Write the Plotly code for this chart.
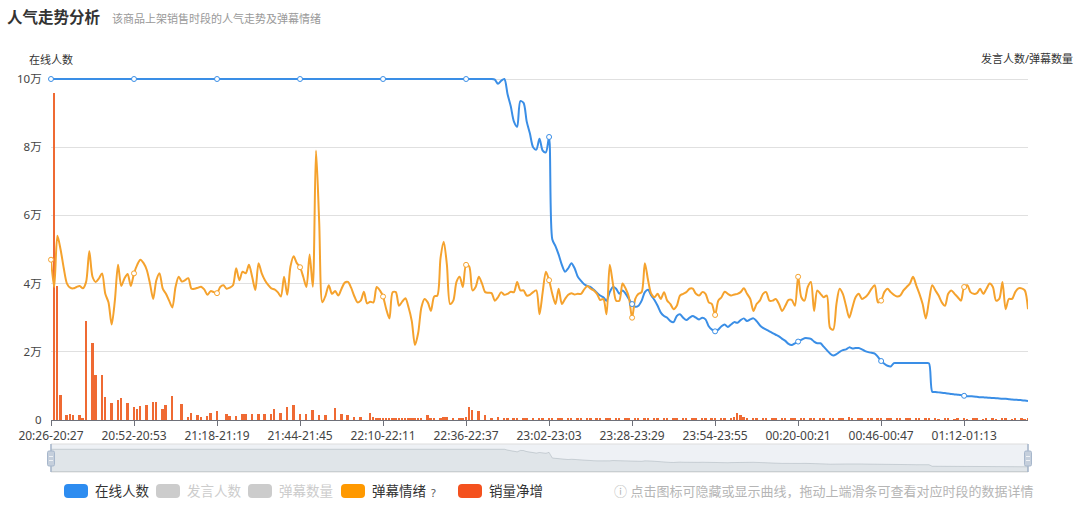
import plotly.graph_objects as go

# ---------------- data ----------------
START_MIN = 20 * 60 + 26
N_MIN = 307


def _fmt(m):
    m %= 24 * 60
    return f"{m // 60:02d}:{m % 60:02d}"


categories = [f"{_fmt(START_MIN + k)}-{_fmt(START_MIN + k + 1)}" for k in range(N_MIN)]
tick_labels = categories[::26]

y_tick_values = [0, 20000, 40000, 60000, 80000, 100000]
y_tick_labels = ["0", "2万", "4万", "6万", "8万", "10万"]

online = [
    100000, 100000, 100000, 100000, 100000, 100000, 100000, 100000, 100000, 100000,
    100000, 100000, 100000, 100000, 100000, 100000, 100000, 100000, 100000, 100000,
    100000, 100000, 100000, 100000, 100000, 100000, 100000, 100000, 100000, 100000,
    100000, 100000, 100000, 100000, 100000, 100000, 100000, 100000, 100000, 100000,
    100000, 100000, 100000, 100000, 100000, 100000, 100000, 100000, 100000, 100000,
    100000, 100000, 100000, 100000, 100000, 100000, 100000, 100000, 100000, 100000,
    100000, 100000, 100000, 100000, 100000, 100000, 100000, 100000, 100000, 100000,
    100000, 100000, 100000, 100000, 100000, 100000, 100000, 100000, 100000, 100000,
    100000, 100000, 100000, 100000, 100000, 100000, 100000, 100000, 100000, 100000,
    100000, 100000, 100000, 100000, 100000, 100000, 100000, 100000, 100000, 100000,
    100000, 100000, 100000, 100000, 100000, 100000, 100000, 100000, 100000, 100000,
    100000, 100000, 100000, 100000, 100000, 100000, 100000, 100000, 100000, 100000,
    100000, 100000, 100000, 100000, 100000, 100000, 100000, 100000, 100000, 100000,
    100000, 100000, 100000, 100000, 100000, 100000, 100000, 100000,
    100000, 99800, 98600, 99500, 100000, 95500, 92000, 87500, 86000, 93500,
    93000, 87500, 84000, 80000, 79300, 82500, 79000, 78500, 83000, 53000,
    51000, 48500, 45500, 43500, 44500, 46000, 44500, 42000, 40800, 39800,
    39300, 39000, 38200, 37300, 36500, 36000, 35000, 37500, 39000, 38500,
    37000, 38000, 37000, 35500, 34000, 33200, 33500, 35000, 37500, 38200,
    36500, 35200, 33500, 31500, 30500, 30000, 29000, 28700, 30500, 31000,
    30000, 29300, 30000, 30500, 30000, 29500, 30000, 29500, 27500, 26500,
    26000, 26500, 27500, 28000, 27300, 28000, 28700, 28500, 29300, 29800,
    29000, 29500, 29800, 29000, 27800, 27000, 26500, 26000, 25500, 25000,
    24500, 23800, 23200, 22300, 22000, 22500, 23000, 23500, 24000, 24000,
    23800, 23000, 22500, 22500, 21500, 20500, 19500, 18900, 19300, 20000,
    20500, 20700, 21300, 21000, 21100, 21100, 20700, 20200, 19900, 19700,
    19500, 18500, 17300, 16500, 15900, 15700, 16700, 16700, 16700, 16700,
    16700, 16700, 16700, 16700, 16700, 16700, 16700, 16600, 8300, 8200,
    8100, 8000, 7900, 7800, 7600, 7500, 7400, 7300, 7100, 7000,
    6950, 6900, 6800, 6700, 6650, 6600, 6500, 6450, 6400, 6300,
    6250, 6200, 6100, 6000, 5950, 5900, 5800, 5700, 5600,
]

sentiment = [
    47000, 39000, 54000, 50000, 44500, 40000, 38800, 38600, 39000, 39300,
    38600, 40500, 49500, 42000, 40500, 41500, 43000, 37000, 34500, 28000,
    35000, 45500, 39300, 41500, 42800, 39300, 43000, 45500, 47000, 46000,
    44000, 40000, 35500, 41000, 43000, 38500, 37000, 35000, 33000, 39000,
    42000, 40600, 41000, 41600, 38500, 38500, 38800, 39100, 38300, 36700,
    37800, 37500, 37200, 39000, 39500, 38500, 38800, 39500, 44500, 41000,
    43500, 43000, 45500, 42000, 38100, 46000, 43000, 41000, 39600, 38600,
    38300, 37500, 36200, 42000, 36700, 45000, 48000, 46000, 44800, 42000,
    39000, 48500, 39100, 79000, 58000, 34500, 36500, 39500, 37000, 37800,
    36500, 38500, 40300, 40500, 38800, 36300, 34500, 35000, 37600, 34200,
    34700, 34500, 39000, 38000, 36200, 32500, 29800, 37500, 37500, 33500,
    34700, 35700, 33000, 29000, 22000, 25500, 33000, 35500, 34500, 32000,
    36200, 36500, 47500, 52300, 45500, 34000, 35000, 40500, 42000, 39000,
    45500, 45000, 38000, 39000, 42000, 40000, 37500, 37300, 37200, 35000,
    36000, 37500, 36700, 37000, 37600, 37500, 40500, 38000, 38000, 36500,
    36700, 37500, 38000, 31000, 37500, 43500, 41000, 37000, 34000, 38500,
    34000, 35500, 36700, 37200, 36800, 37000, 37000, 38300, 39300, 38500,
    38000, 37000, 35200, 35500, 31000, 45500, 40000, 35000, 35000, 40000,
    38500, 36000, 30000, 35500, 37000, 37500, 46000, 41000, 37000, 36000,
    37000, 35500, 37500, 35000, 34000, 32500, 33500, 36500, 37000, 37500,
    38500, 38500, 37000, 36500, 37500, 37000, 34500, 34000, 30800, 35000,
    36000, 37600, 37000, 36500, 36800, 37000, 37500, 38600, 37000, 35500,
    32000, 34000, 35000, 37000, 37500, 35000, 35000, 35500, 34000, 32000,
    33500, 35200, 35200, 33500, 42000, 36000, 35000, 39000, 40500, 32000,
    38000, 37000, 36000, 36500, 27000, 26500, 34000, 38500, 37000, 33500,
    30000, 33000, 36000, 37000, 35500, 36000, 37000, 38500, 39500, 34500,
    35000, 37500, 38500, 37500, 36700, 36200, 36500, 38000, 39000, 40000,
    42000, 39500, 37000, 34000, 29800, 35000, 39500, 38000, 36500, 34500,
    33500, 37000, 38000, 37000, 36000, 35000, 39000, 39500, 37500, 37000,
    37200, 38500, 37000, 38500, 40000, 39000, 35000, 35500, 40500, 32500,
    35500, 35500, 37500, 38600, 38600, 38000, 32500,
]

sales_net = [
    0, 96000, 39300, 7300, 0, 1500, 1900, 1500, 0, 1400,
    600, 29100, 0, 22500, 13200, 0, 13200, 6800, 0, 4900,
    0, 5900, 6400, 0, 4900, 0, 3900, 3200, 4000, 0,
    4300, 0, 5200, 5200, 0, 3200, 4300, 0, 7100, 0,
    0, 4700, 0, 1000, 2100, 0, 1500, 1000, 0, 1200,
    2100, 0, 2700, 0, 0, 1800, 1200, 0, 1200, 0,
    1900, 1900, 0, 1800, 0, 1800, 0, 1900, 0, 1800,
    3100, 0, 2100, 0, 3900, 0, 4400, 0, 1800, 0,
    1700, 0, 2900, 0, 1500, 0, 1500, 0, 0, 3400,
    0, 1800, 0, 1500, 0, 1000, 0, 1000, 0, 0,
    2000, 800, 500, 500, 500, 500, 400, 400, 500, 400,
    400, 500, 400, 400, 500, 400, 300, 0, 1500, 700,
    500, 0, 700, 800, 800, 0, 500, 0, 700, 500,
    800, 3800, 2800, 0, 2500, 0, 1500, 0, 700, 0,
    800, 0, 700, 600, 0, 700, 600, 0, 700, 600,
    0, 600, 0, 600,
    400, 0, 300, 500, 0, 400, 300, 0, 500, 300,
    0, 400, 300, 0, 300, 500, 0, 300, 400, 0,
    300, 400, 0, 300, 300, 0, 400, 300, 0, 300,
    400, 0, 300, 300, 0, 400, 300, 0, 300, 300,
    0, 300, 400, 0, 300, 300, 0, 300, 400, 0,
    300, 300, 0, 400, 300, 0, 300, 500, 0, 600,
    1000, 2100, 1600, 900, 500, 0, 400, 600, 0, 400,
    300, 0, 400, 300, 0, 300, 300, 0, 300, 400,
    0, 300, 300, 0, 400, 300, 0, 300, 300, 0,
    300, 400, 0, 300, 500, 0, 900, 400, 0, 300,
    300, 0, 300, 300, 0, 400, 300, 0, 300, 300,
    0, 300, 300, 0, 300, 300, 0, 300, 300, 0,
    300, 300, 0, 300, 200, 0, 300, 300, 0, 200,
    300, 0, 300, 200, 0, 300, 300, 0, 200, 300,
    0, 300, 200, 0, 300, 300, 0, 200, 300, 0,
    300, 200, 300,
]

assert len(online) == N_MIN, len(online)
assert len(sentiment) == N_MIN, len(sentiment)
assert len(sales_net) == N_MIN, len(sales_net)

legend_names = ["在线人数", "发言人数", "弹幕数量", "弹幕情绪", "销量净增"]
legend_colors = ["#2d8cf0", "#cccccc", "#cccccc", "#ff9900", "#f4511e"]
legend_text_colors = ["#333333", "#cccccc", "#cccccc", "#333333", "#333333"]

# ---------------- geometry helpers (pixel -> paper) ----------------
W, H = 1080, 509
PL, PR, PT, PB = 51, 1028, 76, 472
Y_ZERO_PX, Y_MAX_PX = 420, 79          # pixel rows of 0 and 10万
Y_TOP = 100000 * (Y_ZERO_PX - PT) / (Y_ZERO_PX - Y_MAX_PX)


def px(x):
    return (x - PL) / (PR - PL)


def py(y):
    return (PB - y) / (PB - PT)


def rrect_path(x0, y0, x1, y1, r):
    return (
        f"M {px(x0 + r)},{py(y0)} L {px(x1 - r)},{py(y0)} "
        f"Q {px(x1)},{py(y0)} {px(x1)},{py(y0 + r)} L {px(x1)},{py(y1 - r)} "
        f"Q {px(x1)},{py(y1)} {px(x1 - r)},{py(y1)} L {px(x0 + r)},{py(y1)} "
        f"Q {px(x0)},{py(y1)} {px(x0)},{py(y1 - r)} L {px(x0)},{py(y0 + r)} "
        f"Q {px(x0)},{py(y0)} {px(x0 + r)},{py(y0)} Z"
    )


FONT = "Microsoft YaHei, Noto Sans, Noto Sans CJK SC, sans-serif"
BLUE = "#3a8ee6"
ORANGE = "#f5a22d"
BAR = "#ef6a33"

fig = go.Figure()

# main series
fig.add_trace(go.Scatter(
    x=categories, y=online, mode="lines",
    line=dict(color=BLUE, width=2, shape="spline", smoothing=0.8),
    cliponaxis=False, hoverinfo="skip", xaxis="x", yaxis="y",
))
fig.add_trace(go.Scatter(
    x=categories, y=sentiment, mode="lines",
    line=dict(color=ORANGE, width=2, shape="spline", smoothing=0.8),
    cliponaxis=False, hoverinfo="skip", xaxis="x", yaxis="y",
))
fig.add_trace(go.Bar(
    x=categories, y=sales_net, marker=dict(color=BAR, line=dict(width=0)),
    width=0.62, hoverinfo="skip", xaxis="x", yaxis="y",
))
# sparse hollow symbols (every 26th point)
fig.add_trace(go.Scatter(
    x=categories[::26], y=online[::26], mode="markers",
    marker=dict(size=5, color="white", line=dict(color=BLUE, width=1)),
    cliponaxis=False, hoverinfo="skip", xaxis="x", yaxis="y",
))
fig.add_trace(go.Scatter(
    x=categories[::26], y=sentiment[::26], mode="markers",
    marker=dict(size=5, color="white", line=dict(color=ORANGE, width=1)),
    cliponaxis=False, hoverinfo="skip", xaxis="x", yaxis="y",
))

# data-zoom shadow (ECharts-like extent)
lo, hi = min(online), max(online)
pad = (hi - lo) * 0.3
shadow_range = [lo - pad, hi + pad]
fig.add_trace(go.Scatter(
    x=categories + [categories[-1], categories[0]],
    y=online + [shadow_range[0], shadow_range[0]],
    mode="lines", fill="toself",
    fillcolor="rgba(47,69,84,0.07)",
    line=dict(color="rgba(47,69,84,0.22)", width=0.8),
    hoverinfo="skip", xaxis="x2", yaxis="y2",
))

shapes = []
# slider background
shapes.append(dict(type="rect", xref="paper", yref="paper",
                   x0=px(51), x1=px(1028), y0=py(444), y1=py(472),
                   fillcolor="#eef1f5", line=dict(color="#dddddd", width=1), layer="below"))
# slider handles
for hx in (51, 1028):
    shapes.append(dict(type="line", xref="paper", yref="paper",
                       x0=px(hx), x1=px(hx), y0=py(444), y1=py(472),
                       line=dict(color="#a7b7cc", width=1.5)))
    shapes.append(dict(type="path", xref="paper", yref="paper",
                       path=rrect_path(hx - 3.5, 451, hx + 3.5, 466, 1.5),
                       fillcolor="#c5cfdc", line=dict(color="#a7b7cc", width=1)))
    for ly in (456.5, 460.5):
        shapes.append(dict(type="line", xref="paper", yref="paper",
                           x0=px(hx - 2), x1=px(hx + 2), y0=py(ly), y1=py(ly),
                           line=dict(color="#eef1f5", width=1)))

# legend icons
legend_icon_x = [64, 156, 248, 341, 458]
legend_text_x = [93, 185, 277, 370, 487]
LEG_Y = 491
for ix, col in zip(legend_icon_x, legend_colors):
    shapes.append(dict(type="path", xref="paper", yref="paper",
                       path=rrect_path(ix, LEG_Y - 7, ix + 24, LEG_Y + 7, 4),
                       fillcolor=col, line=dict(width=0)))

annotations = [
    dict(x=px(5), y=py(17), text="<b>人气走势分析</b>", xanchor="left", yanchor="middle",
         font=dict(size=15.5, color="#333333", family=FONT)),
    dict(x=px(110), y=py(18), text="该商品上架销售时段的人气走势及弹幕情绪", xanchor="left",
         yanchor="middle", font=dict(size=11, color="#999999", family=FONT)),
    dict(x=px(51), y=py(60), text="在线人数", xanchor="center", yanchor="middle",
         font=dict(size=11, color="#333333", family=FONT)),
    dict(x=px(1027), y=py(59), text="发言人数/弹幕数量", xanchor="center", yanchor="middle",
         font=dict(size=11, color="#333333", family=FONT)),
]
for tx, name, tcol in zip(legend_text_x, legend_names, legend_text_colors):
    annotations.append(dict(x=px(tx), y=py(LEG_Y), text=name, xanchor="left", yanchor="middle",
                            font=dict(size=13.5, color=tcol, family=FONT)))
annotations.append(dict(x=px(429), y=py(LEG_Y + 1), text="?", xanchor="left", yanchor="middle",
                        font=dict(size=11, color="#555555", family=FONT)))
annotations.append(dict(x=px(612), y=py(LEG_Y), xanchor="left", yanchor="middle",
                        text="ⓘ 点击图标可隐藏或显示曲线，拖动上端滑条可查看对应时段的数据详情",
                        font=dict(size=13, color="#b5b5b5", family=FONT)))
for a in annotations:
    a.update(xref="paper", yref="paper", showarrow=False)

fig.update_layout(
    width=W, height=H,
    margin=dict(l=PL, r=W - PR, t=PT, b=H - PB, pad=0),
    paper_bgcolor="white", plot_bgcolor="rgba(0,0,0,0)",
    showlegend=False, bargap=0, barmode="overlay",
    font=dict(family=FONT, color="#444444"),
    xaxis=dict(
        type="category", domain=[0, 1], anchor="y", range=[0, N_MIN - 1],
        tickmode="array", tickvals=tick_labels, ticktext=tick_labels,
        ticks="outside", ticklen=5, tickcolor="#6e7079", tickwidth=1,
        showline=True, linecolor="#6e7079", linewidth=1,
        showgrid=False, zeroline=False, automargin=False,
        tickfont=dict(size=12, color="#444444", family=FONT),
    ),
    yaxis=dict(
        domain=[py(Y_ZERO_PX), 1], anchor="x", range=[0, Y_TOP],
        tickmode="array", tickvals=y_tick_values, ticktext=y_tick_labels,
        ticks="outside", ticklen=6, tickcolor="rgba(0,0,0,0)",
        showgrid=True, gridcolor="#e0e0e0", gridwidth=1,
        showline=False, zeroline=False, automargin=False,
        tickfont=dict(size=11.5, color="#444444", family=FONT),
    ),
    xaxis2=dict(
        type="category", domain=[0, 1], anchor="y2", range=[0, N_MIN - 1],
        showticklabels=False, showgrid=False, zeroline=False, showline=False, ticks="",
    ),
    yaxis2=dict(
        domain=[0, py(444)], anchor="x2", range=shadow_range,
        showticklabels=False, showgrid=False, zeroline=False, showline=False, ticks="",
    ),
    shapes=shapes,
    annotations=annotations,
)

fig.write_html("out.html")
